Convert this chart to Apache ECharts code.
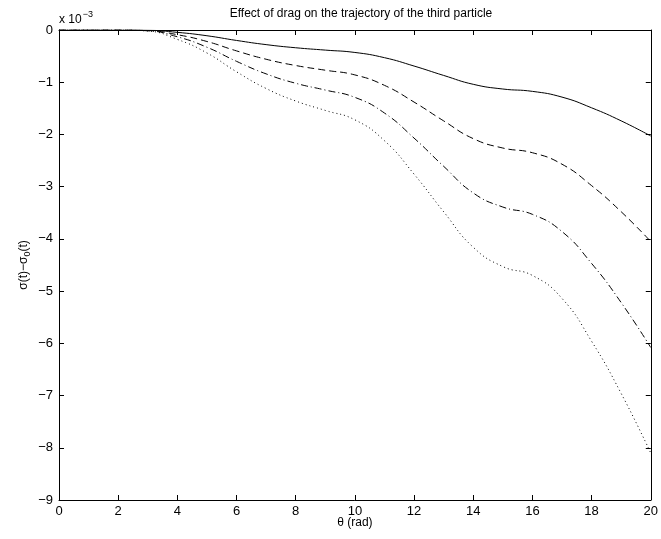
<!DOCTYPE html>
<html>
<head>
<meta charset="utf-8">
<script src="https://cdn.jsdelivr.net/npm/echarts@6/dist/echarts.min.js"></script>
<style>html,body{margin:0;padding:0;background:#fff}#c{width:661px;height:539px}</style>
</head>
<body>
<div id="c"></div>
<script>
// theta (rad)
var theta = [0,1,2,3,4,5,6,7,8,9,10,11,12,13,14,15,16,17,18,19,20];
// sigma(t) - sigma0(t), in units of 1e-3
var solid   = [0,0,0,-0.005,-0.045,-0.11,-0.2,-0.28,-0.34,-0.385,-0.43,-0.53,-0.69,-0.87,-1.04,-1.13,-1.175,-1.285,-1.49,-1.74,-2.03];
var dashed  = [0,0,0,-0.01,-0.09,-0.22,-0.4,-0.56,-0.68,-0.77,-0.86,-1.06,-1.38,-1.74,-2.08,-2.26,-2.35,-2.57,-2.98,-3.48,-4.05];
var dashdot = [0,0,0,-0.015,-0.13,-0.33,-0.6,-0.84,-1.02,-1.15,-1.29,-1.59,-2.07,-2.61,-3.12,-3.39,-3.53,-3.86,-4.47,-5.22,-6.08];
var dotted  = [0,0,0,-0.02,-0.18,-0.44,-0.8,-1.12,-1.36,-1.54,-1.72,-2.12,-2.76,-3.48,-4.16,-4.53,-4.7,-5.14,-5.96,-6.96,-8.1];
var xTicks = [0,2,4,6,8,10,12,14,16,18,20];
var yTicks = [0,-1,-2,-3,-4,-5,-6,-7,-8,-9];

function pairs(ys){ return theta.map(function(t,i){ return [t, ys[i]]; }); }
var FONT = 'Liberation Sans, Arial, sans-serif';
var chart = echarts.init(document.getElementById('c'), null, {renderer:'canvas'});
var axisCommon = {
  axisLine:{show:true, onZero:false, lineStyle:{color:'#000', width:1}},
  axisTick:{show:true, inside:true, length:5, lineStyle:{color:'#000', width:1}},
  splitLine:{show:false}
};
function mk(ys, dash){
  return {type:'line', data:pairs(ys), smooth:0.5, symbol:'none',
    lineStyle:{color:'#000', width:1, type:dash}, animation:false};
}
chart.setOption({
  animation:false,
  title:{text:'Effect of drag on the trajectory of the third particle', left:356, top:3, textAlign:'center',
    textStyle:{fontFamily:FONT, fontSize:12, fontWeight:'normal', color:'#000'}},
  grid:{left:59, right:7, top:30, bottom:39},
  xAxis:[
    Object.assign({type:'value', min:0, max:20, interval:2, position:'bottom',
      name:'θ (rad)', nameLocation:'middle', nameGap:17, nameMoveOverlap:false,
      nameTextStyle:{fontFamily:FONT, fontSize:12, color:'#000', verticalAlign:'top'},
      axisLabel:{fontFamily:FONT, fontSize:13, color:'#000', margin:5}}, axisCommon),
    Object.assign({type:'value', min:0, max:20, interval:2, position:'top',
      axisLabel:{show:false}}, axisCommon)
  ],
  yAxis:[
    Object.assign({type:'value', min:-9, max:0, interval:1, position:'left',
      name:'{n|σ(t)−σ}{s|0}{n|(t)}', nameLocation:'middle', nameGap:27, nameRotate:90, nameMoveOverlap:false,
      nameTextStyle:{rich:{n:{fontFamily:FONT, fontSize:12, color:'#000'}, s:{fontFamily:FONT, fontSize:9, color:'#000', padding:[8,0,0,0]}}},
      axisLabel:{fontFamily:FONT, fontSize:13, color:'#000', margin:6,
        formatter:function(v){ return String(v).replace('-', '−'); }}}, axisCommon),
    Object.assign({type:'value', min:-9, max:0, interval:1, position:'right',
      axisLabel:{show:false}}, axisCommon)
  ],
  graphic:[{type:'text', left:59, top:10,
    style:{text:'{n|x 10}{s|−3}', rich:{n:{fontFamily:FONT, fontSize:12, fill:'#000', padding:[6,0,0,0]}, s:{fontFamily:FONT, fontSize:9, fill:'#000', padding:[0,0,4,1]}}}}],
  series:[
    mk(solid,'solid'),
    mk(dashed,[7,4]),
    mk(dashdot,[7,3,1,3]),
    mk(dotted,[1,3])
  ]
});
</script>
</body>
</html>
